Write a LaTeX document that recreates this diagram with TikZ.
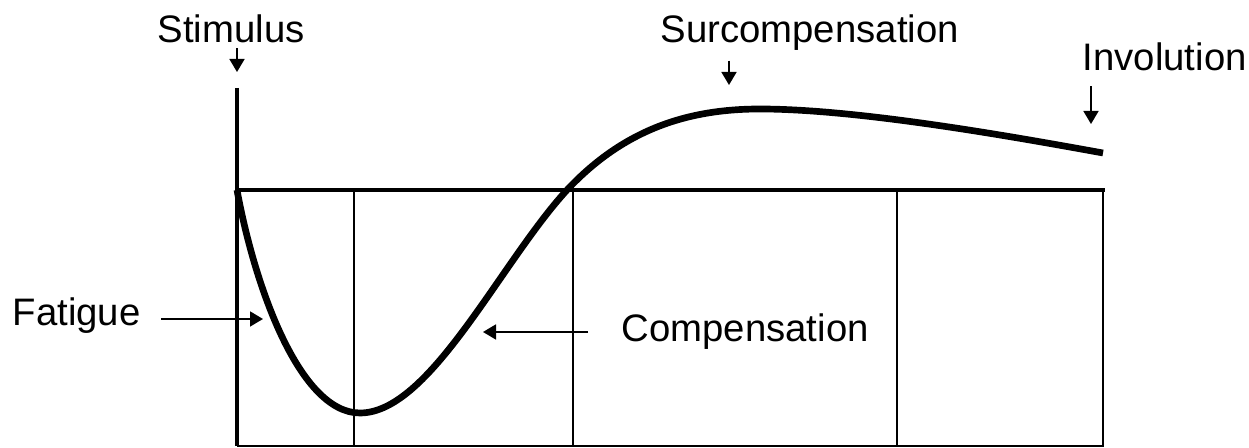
\documentclass[tikz,border=0pt]{standalone}
\usepackage{fontspec}
\setmainfont{Liberation Sans}
\usetikzlibrary{arrows.meta}

\tikzset{
  lbl/.style={inner sep=0pt, anchor=base west, font=\fontsize{10.9}{13}\selectfont},
  arr/.style={line width=0.5pt, -{Triangle[length=1.3mm,width=1.5mm]}},
  thickline/.style={line width=1.4pt},
  thinline/.style={line width=0.45pt},
  curve/.style={line width=1.9pt},
}

\begin{document}
\begin{tikzpicture}
  \useasboundingbox (0,0) rectangle (12.49,4.48);

  % Frame
  \draw[thickline] (2.37,3.60) -- (2.37,0.02);
  \draw[thickline] (2.37,2.58) -- (11.05,2.58);
  \draw[line width=0.6pt] (2.37,0.02) -- (11.03,0.02) -- (11.03,2.58);
  \foreach \xx in {3.54,5.73,8.97}
    \draw[thinline] (\xx,2.58) -- (\xx,0.02);

  % Curve
  \draw[curve] (2.37,2.58) .. controls (2.55,1.6) and (3.0,0.35) .. (3.6,0.35)
    .. controls (4.3,0.35) and (5.0,1.85) .. (5.67,2.58)
    .. controls (6.25,3.2) and (6.9,3.39) .. (7.6,3.39)
    .. controls (8.6,3.39) and (10.2,3.1) .. (11.03,2.95);

  % Labels
  \node[lbl] (stimulus) at (1.57,4.05) {Stimulus};
  \node[lbl] (surcomp) at (6.60,4.05) {Surcompensation};
  \node[lbl] (involution) at (10.82,3.77) {Involution};
  \node[lbl] (fatigue) at (0.12,1.22) {Fatigue};
  \node[lbl] (compens) at (6.21,1.06) {Compensation};

  % Arrow ends
  \coordinate (stimtip) at (2.37,3.76);
  \coordinate (surctip) at (7.29,3.63);
  \coordinate (invtip) at (10.91,3.24);
  \coordinate (fattip) at (2.63,1.29);
  \coordinate (comptip) at (4.83,1.16);

  % Arrows
  \draw[arr] (stimtip |- stimulus.south) ++(0,-0.04) -- (stimtip);
  \draw[arr] (surctip |- surcomp.south) ++(0,-0.09) -- (surctip);
  \draw[arr] (invtip |- involution.south) ++(0,-0.14) -- (invtip);
  \draw[arr] (fatigue.east |- fattip) ++(0.20,0) -- (fattip);
  \draw[arr] (compens.west |- comptip) ++(-0.33,0) -- (comptip);
\end{tikzpicture}
\end{document}
